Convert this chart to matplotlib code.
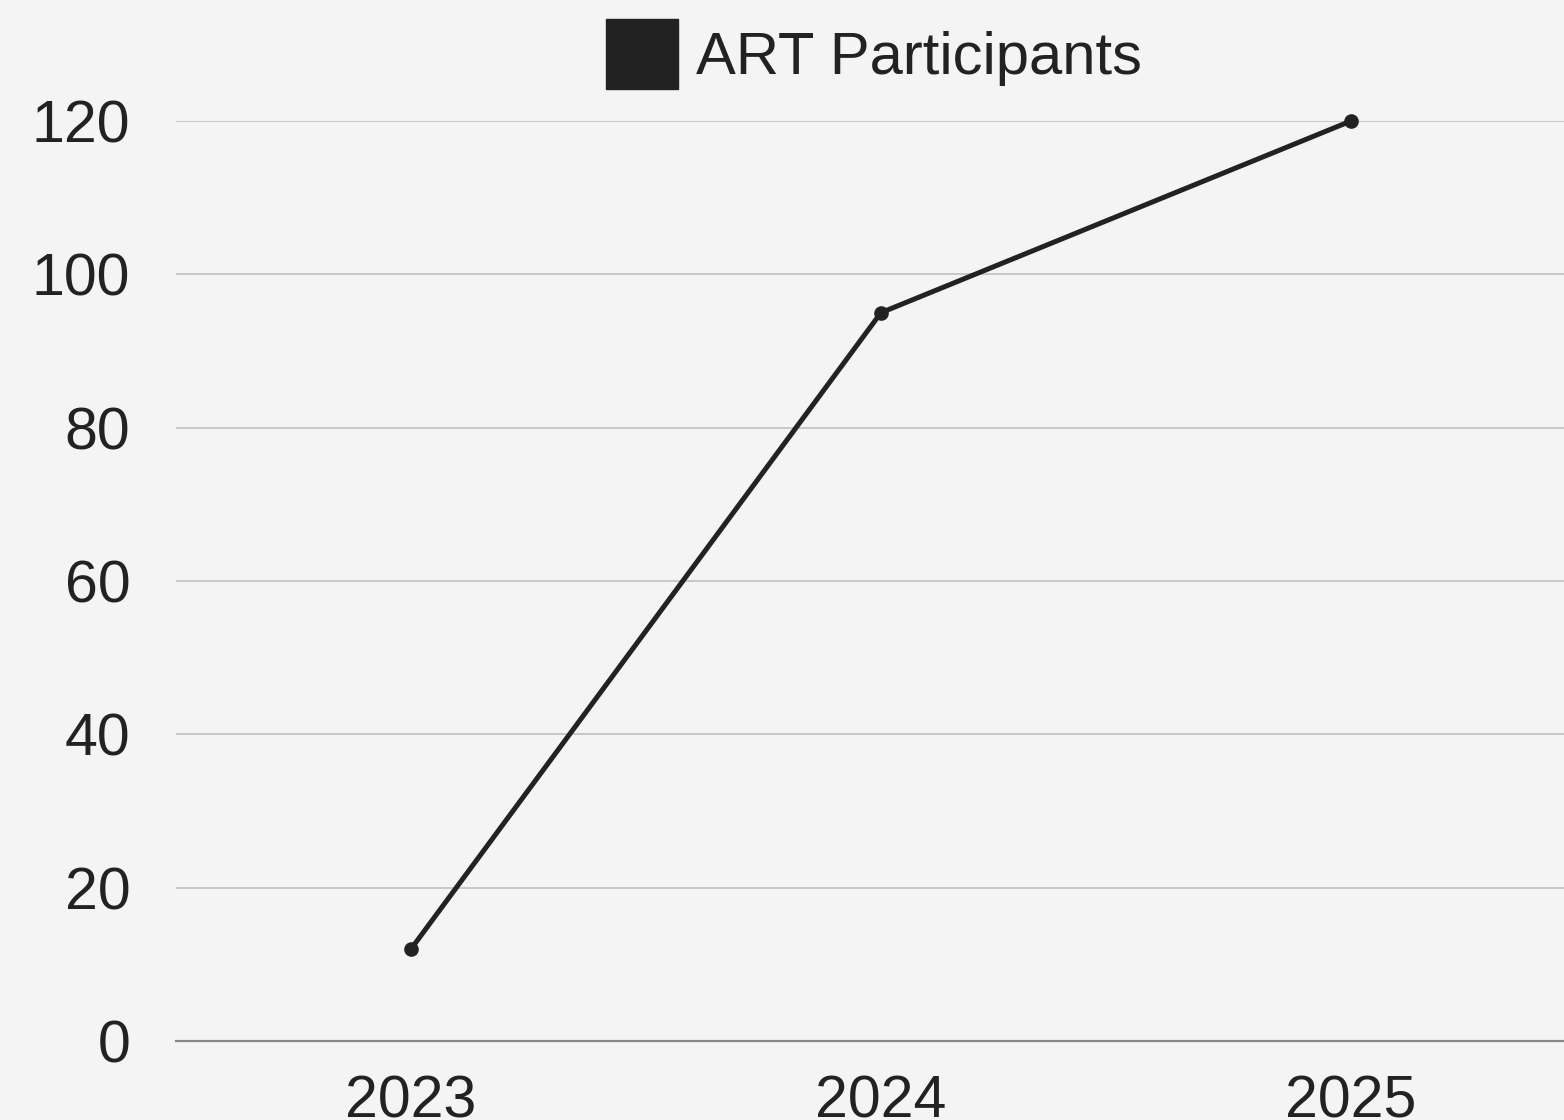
import matplotlib
matplotlib.use("Agg")
import matplotlib.pyplot as plt
from matplotlib.patches import Patch

years = ["2023", "2024", "2025"]
participants = [12, 95, 120]
y_ticks = [0, 20, 40, 60, 80, 100, 120]

bg = "#f4f4f4"
ink = "#222222"

fig = plt.figure(figsize=(15.64, 11.2), dpi=100, facecolor=bg)
ax = fig.add_axes([176 / 1564, 1 - 1041 / 1120, 1410 / 1564, 920 / 1120])
ax.set_facecolor(bg)

x = list(range(len(years)))
ax.plot(x, participants, color=ink, lw=3.6, marker="o", ms=9.5,
        clip_on=False, zorder=3)

ax.set_xlim(-0.5, 2.5)
ax.set_ylim(0, 120)
ax.set_yticks(y_ticks)
ax.set_xticks(x)
ax.set_xticklabels(years)

for lab in ax.get_xticklabels() + ax.get_yticklabels():
    lab.set_family(["Liberation Sans", "DejaVu Sans"])
    lab.set_fontsize(42.5)
    lab.set_color(ink)

ax.tick_params(axis="y", length=0, pad=33)
ax.tick_params(axis="x", length=0, pad=24)
ax.grid(axis="y", color="#c8c8c8", lw=1.4)
ax.set_axisbelow(True)
for side in ["left", "right", "top"]:
    ax.spines[side].set_visible(False)
ax.spines["bottom"].set_color("#888888")
ax.spines["bottom"].set_linewidth(1.6)

handles = [Patch(facecolor=ink, edgecolor=ink, label="ART Participants")]
fig.legend(handles=handles, loc="center", bbox_to_anchor=(874 / 1564, 1 - 54 / 1120),
           frameon=False, borderpad=0, handlelength=1.2, handleheight=1.45,
           handletextpad=0.3,
           prop={"family": ["Liberation Sans", "DejaVu Sans"], "size": 43},
           labelcolor=ink)

fig.savefig("out.png", dpi=100, facecolor=bg)
